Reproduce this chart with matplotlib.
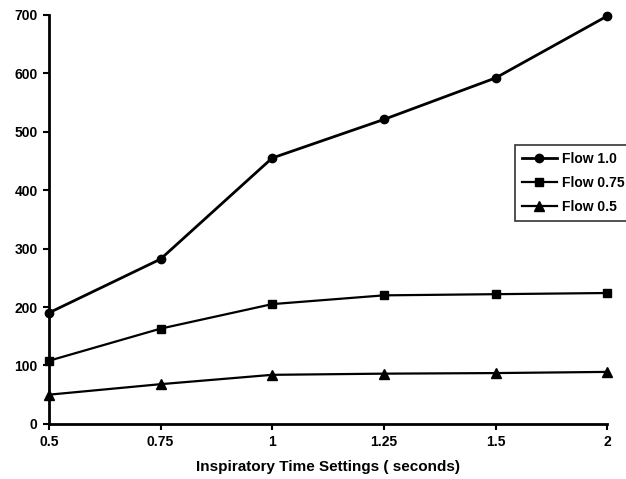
import matplotlib
matplotlib.use("Agg")
import matplotlib.pyplot as plt

plt.rcParams['font.family'] = ['Liberation Sans', 'DejaVu Sans']
plt.rcParams['font.weight'] = 'bold'

categories = ["0.5", "0.75", "1", "1.25", "1.5", "2"]
flow_10 = [190, 282, 455, 521, 592, 698]
flow_075 = [108, 163, 205, 220, 222, 224]
flow_05 = [50, 68, 84, 86, 87, 89]
yticks = [0, 100, 200, 300, 400, 500, 600, 700]

fig = plt.figure(figsize=(6.26, 4.79), dpi=100)
ax = fig.add_axes([0.078, 0.115, 0.892, 0.854])
x = list(range(len(categories)))
ax.plot(x, flow_10, color='black', lw=2, marker='o', ms=6, label='Flow 1.0', clip_on=False)
ax.plot(x, flow_075, color='black', lw=1.6, marker='s', ms=6, label='Flow 0.75', clip_on=False)
ax.plot(x, flow_05, color='black', lw=1.6, marker='^', ms=7, label='Flow 0.5', clip_on=False)

ax.set_xlim(0, len(categories) - 1)
ax.set_ylim(0, 700)
ax.set_xticks(x)
ax.set_xticklabels(categories, fontsize=10, fontweight='bold')
ax.set_yticks(yticks)
ax.set_yticklabels([str(v) for v in yticks], fontsize=10, fontweight='bold')
for s in ['top', 'right']:
    ax.spines[s].set_visible(False)
for s in ['left', 'bottom']:
    ax.spines[s].set_linewidth(2)
ax.tick_params(axis='both', length=4, width=1.5, direction='out', pad=4)
ax.set_xlabel('Inspiratory Time Settings ( seconds)', fontsize=11, fontweight='bold', labelpad=8)

leg = ax.legend(loc='upper left', bbox_to_anchor=(0.835, 0.681), frameon=True, fancybox=False,
                edgecolor='black', fontsize=10, handlelength=2.5, borderpad=0.5, labelspacing=0.7,
                handletextpad=0.4, borderaxespad=0)
leg.get_frame().set_linewidth(1.2)
for t in leg.get_texts():
    t.set_fontweight('bold')

fig.savefig('out.png', dpi=100)
